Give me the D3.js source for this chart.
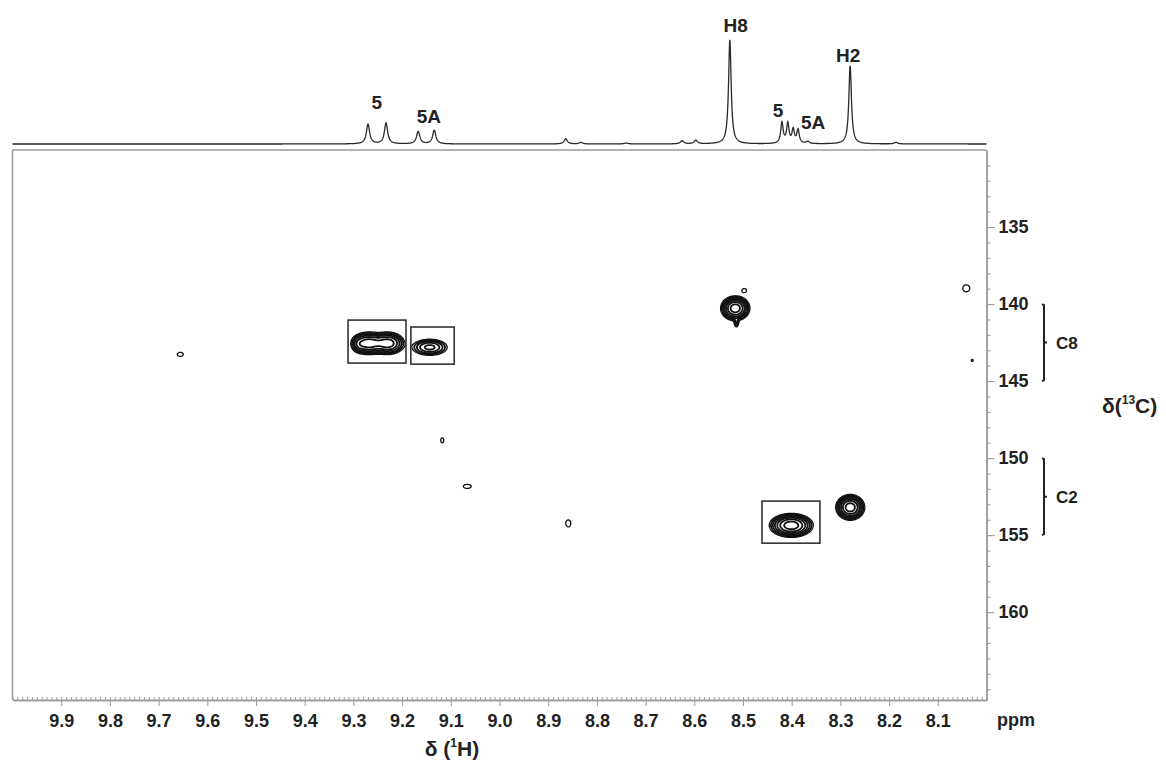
<!DOCTYPE html>
<html><head><meta charset="utf-8">
<script src="https://cdn.jsdelivr.net/npm/d3@7"></script>
<style>
body{margin:0;background:#fff}
svg{display:block}
text{font-family:"Liberation Sans",Arial,sans-serif;font-weight:bold;fill:#222}
</style>
</head><body>
<svg id="chart" width="1166" height="776"></svg>
<script>
// ---------------- DATA ----------------
const hDomain = [10.0, 8.0];          // 1H ppm (reversed)
const cDomain = [130, 165.7];         // 13C ppm
const xTickValues = [9.9,9.8,9.7,9.6,9.5,9.4,9.3,9.2,9.1,9.0,8.9,8.8,8.7,8.6,8.5,8.4,8.3,8.2,8.1];
const cTickValues = [135,140,145,150,155,160];

// 1D 1H projection: peak positions, heights (H8 = 100), half widths (ppm)
const specPpm    = [9.270, 9.233, 9.167, 9.134, 8.864, 8.833, 8.740, 8.625, 8.597, 8.527, 8.420, 8.408, 8.397, 8.387, 8.367, 8.280, 8.186];
const specHeight = [19,    20,    12,    13,    5,     1.5,   0.8,   3,     3.5,   100,   20,    19,    13,    13,    2,     75,    1.5];
const specWidth  = [0.004, 0.004, 0.004, 0.004, 0.004, 0.004, 0.005, 0.004, 0.004, 0.0032,0.003, 0.003, 0.003, 0.003, 0.004, 0.0032,0.004];

// peak labels on the 1D trace
const specLabelText  = ["5", "5A", "H8", "5", "5A", "H2"];
const specLabelPpm   = [9.252, 9.145, 8.515, 8.428, 8.356, 8.284];
const specLabelLevel = [33.7, 20, 108, 26, 14.4, 79];

// 2D HSQC cross peaks
const peakH     = [9.2700, 9.2289, 9.2900, 9.1438, 8.5164, 8.514, 8.498, 8.2803, 8.4014, 9.656, 9.1181, 9.0667, 8.8593, 8.0421, 8.0298];
const peakC     = [142.53, 142.53, 142.60, 142.79, 140.26, 141.23, 139.10, 153.18, 154.35, 143.25, 148.83, 151.82, 154.22, 138.96, 143.64];
const peakWidthH= [0.0164, 0.0164, 0.0080, 0.0200, 0.0135, 0.0031, 0.0062, 0.0134, 0.0203, 0.0085, 0.0043, 0.0113, 0.0071, 0.0092, 0.0034];
const peakWidthC= [0.357,  0.357,  0.300,  0.292,  0.365,  0.195,  0.170,  0.377,  0.351,  0.180,  0.224,  0.180,  0.310,  0.292,  0.108];
const peakAmp   = [8,      8,      2,      5,      12,     2,      1.3,    12,     12,     1.3,    1.3,    1.3,    1.3,    1.35,   1.2];
const contourLevels = [1, 1.45, 2.1, 3.05, 4.4, 6.4, 9.3];

// highlight boxes [H from, H to, C from, C to]
const boxH1 = [9.311, 9.182, 8.461];
const boxH2 = [9.192, 9.093, 8.342];
const boxC1 = [141.04, 141.49, 152.79];
const boxC2 = [143.83, 143.90, 155.52];

// carbon assignments
const assignText = ["C8", "C2"];
const assignFrom = [140, 150];
const assignTo   = [145, 155];

// ---------------- LAYOUT ----------------
const svg = d3.select("#chart");
const plotL = 12.5, plotR = 986.5, plotT = 150, plotB = 700;
const x = d3.scaleLinear().domain(hDomain).range([plotL, plotR]);
const y = d3.scaleLinear().domain(cDomain).range([plotT, plotB]);
const sy = d3.scaleLinear().domain([0, 100]).range([144, 40]);
const axisColor = "#9a9a9a";

// frame (top + left)
svg.append("line").attr("x1", plotL).attr("x2", plotR).attr("y1", plotT).attr("y2", plotT)
  .attr("stroke", axisColor).attr("stroke-width", 1.5);
svg.append("line").attr("x1", plotL).attr("x2", plotL).attr("y1", plotT).attr("y2", plotB)
  .attr("stroke", axisColor).attr("stroke-width", 1.5);

// bottom axis
const gx = svg.append("g").attr("transform", `translate(0,${plotB})`);
gx.call(d3.axisBottom(x).tickValues(d3.range(1000, 799, -1).map(d => d / 100)).tickSize(-3).tickSizeOuter(0).tickFormat(""));
const gx2 = svg.append("g").attr("transform", `translate(0,${plotB})`);
gx2.call(d3.axisBottom(x).tickValues(xTickValues).tickSize(6).tickSizeOuter(0).tickFormat(d3.format(".1f")).tickPadding(8));
[gx, gx2].forEach(g => {
  g.selectAll("path.domain").attr("stroke", axisColor).attr("stroke-width", 1.5);
  g.selectAll(".tick line").attr("stroke", axisColor).attr("stroke-width", 1);
});
gx2.selectAll(".tick text").attr("font-size", 18).attr("font-family", null).attr("fill", "#222");
svg.append("text").attr("x", 997).attr("y", plotB + 26).attr("font-size", 18).text("ppm");

// right axis
const gy = svg.append("g").attr("transform", `translate(${plotR},0)`);
gy.call(d3.axisRight(y).tickValues(d3.range(131, 166)).tickSize(4).tickSizeOuter(0).tickFormat(""));
const gy2 = svg.append("g").attr("transform", `translate(${plotR},0)`);
gy2.call(d3.axisRight(y).tickValues(cTickValues).tickSize(8).tickSizeOuter(0).tickPadding(4));
[gy, gy2].forEach(g => {
  g.selectAll("path.domain").attr("stroke", axisColor).attr("stroke-width", 1.5);
  g.selectAll(".tick line").attr("stroke", axisColor).attr("stroke-width", 1);
});
gy2.selectAll(".tick text").attr("font-size", 18).attr("font-family", null).attr("fill", "#222");

// axis titles
const tH = svg.append("text").attr("x", 452).attr("y", 756).attr("font-size", 21).attr("text-anchor", "middle");
tH.append("tspan").text("δ (");
tH.append("tspan").attr("font-size", 12).attr("dy", -9).text("1");
tH.append("tspan").attr("dy", 9).text("H)");
const tC = svg.append("text").attr("x", 1102).attr("y", 413).attr("font-size", 21);
tC.append("tspan").text("δ(");
tC.append("tspan").attr("font-size", 12).attr("dy", -9).text("13");
tC.append("tspan").attr("dy", 9).text("C)");

// carbon assignment brackets
const bx = 1044;
assignText.forEach((t, i) => {
  const y0 = y(assignFrom[i]), y1 = y(assignTo[i]), ym = (y0 + y1) / 2;
  svg.append("path")
    .attr("d", `M${bx - 2},${y0} L${bx},${y0 + 1} L${bx},${y1 - 1} L${bx - 2},${y1} M${bx},${ym} L${bx + 3},${ym}`)
    .attr("fill", "none").attr("stroke", "#222").attr("stroke-width", 2);
  svg.append("text").attr("x", bx + 12).attr("y", ym + 6).attr("font-size", 17).text(t);
});

// 1D spectrum
const specX = d3.range(0, 4001).map(i => hDomain[0] - i * (hDomain[0] - hDomain[1]) / 4000);
const specI = specX.map(p => d3.sum(specPpm, (c, k) => specHeight[k] * specWidth[k] * specWidth[k] / ((p - c) * (p - c) + specWidth[k] * specWidth[k])));
svg.append("path")
  .datum(specX.map((p, i) => [p, specI[i]]))
  .attr("d", d3.line().x(d => x(d[0])).y(d => sy(d[1])))
  .attr("fill", "none").attr("stroke", "#2a2a2a").attr("stroke-width", 1.3);
specLabelText.forEach((t, i) => {
  svg.append("text").attr("x", x(specLabelPpm[i])).attr("y", sy(specLabelLevel[i]))
    .attr("text-anchor", "middle").attr("font-size", 19).text(t);
});

// 2D contours
const res = 2; // grid cells per pixel
const nx = Math.round((plotR - plotL) * res), ny = Math.round((plotB - plotT) * res);
const stepH = (hDomain[1] - hDomain[0]) / nx, stepC = (cDomain[1] - cDomain[0]) / ny;
const grid = new Float64Array(nx * ny);
peakH.forEach((h, k) => {
  const sH = peakWidthH[k], sC = peakWidthC[k];
  const i0 = Math.max(0, Math.floor((h + 5 * sH - hDomain[0]) / stepH));
  const i1 = Math.min(nx - 1, Math.ceil((h - 5 * sH - hDomain[0]) / stepH));
  const j0 = Math.max(0, Math.floor((peakC[k] - 5 * sC - cDomain[0]) / stepC));
  const j1 = Math.min(ny - 1, Math.ceil((peakC[k] + 5 * sC - cDomain[0]) / stepC));
  for (let j = j0; j <= j1; j++) {
    const dc = (cDomain[0] + j * stepC - peakC[k]) / sC;
    for (let i = i0; i <= i1; i++) {
      const dh = (hDomain[0] + i * stepH - h) / sH;
      grid[i + j * nx] += peakAmp[k] * Math.exp(-0.5 * (dh * dh + dc * dc));
    }
  }
});
const contours = d3.contours().size([nx, ny]).thresholds(contourLevels)(grid);
const proj = d3.geoTransform({
  point: function (gxp, gyp) { this.stream.point(x(hDomain[0] + gxp * stepH), y(cDomain[0] + gyp * stepC)); }
});
svg.append("g").selectAll("path").data(contours).join("path")
  .attr("d", d3.geoPath(proj))
  .attr("fill", "none").attr("stroke", "#111").attr("stroke-width", (d, i) => i === 0 ? 1.3 : 1.8).attr("stroke-linejoin", "round");

// highlight boxes
svg.append("g").selectAll("rect").data(boxH1.map((d, i) => i)).join("rect")
  .attr("x", i => x(boxH1[i])).attr("width", i => x(boxH2[i]) - x(boxH1[i]))
  .attr("y", i => y(boxC1[i])).attr("height", i => y(boxC2[i]) - y(boxC1[i]))
  .attr("fill", "none").attr("stroke", "#333").attr("stroke-width", 1.6);
</script>
</body></html>
